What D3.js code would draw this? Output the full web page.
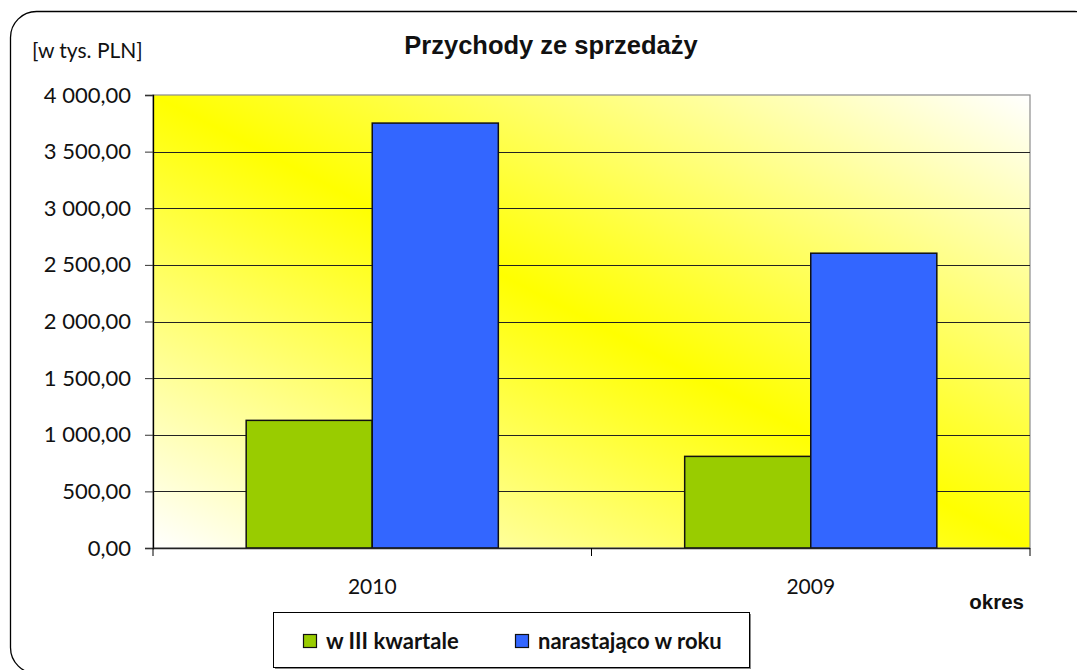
<!DOCTYPE html>
<html>
<head>
<meta charset="utf-8">
<script src="https://cdn.jsdelivr.net/npm/d3@7"></script>
<style>
  body { margin: 0; background: #fff; }
  svg { display: block; }
</style>
</head>
<body>
<svg id="chart" width="1077" height="670"></svg>
<script>
// Przychody ze sprzedaży - bar chart

const categories = ['2010', '2009'];
const seriesNames = ['w III kwartale', 'narastająco w roku'];
const q3Values = [1127, 809];
const ytdValues = [3752, 2603];
const yTicks = [0, 500, 1000, 1500, 2000, 2500, 3000, 3500, 4000];

const colors = ['#99cc00', '#3366ff'];
const bodyFont = 'Lato, "Open Sans", sans-serif';
const boldFont = '"Liberation Sans", Arial, sans-serif';

const svg = d3.select('#chart');
const plot = { left: 153, top: 95, right: 1030, bottom: 548 };

// number format like "4 000,00"
const plFormat = d3.formatLocale({
  decimal: ',', thousands: '\u00a0', grouping: [3], currency: ['', ' zł']
}).format(',.2f');

const defs = svg.append('defs');
const grad = defs.append('linearGradient')
  .attr('id', 'bg')
  .attr('x1', 0).attr('y1', 1)
  .attr('x2', 1).attr('y2', 0);
grad.append('stop').attr('offset', '0%').attr('stop-color', '#ffffff');
grad.append('stop').attr('offset', '50%').attr('stop-color', '#ffff00');
grad.append('stop').attr('offset', '100%').attr('stop-color', '#ffffff');

// outer frame
svg.append('rect')
  .attr('x', 10.5).attr('y', 11.5)
  .attr('width', 1090).attr('height', 662)
  .attr('rx', 26).attr('ry', 26)
  .attr('fill', '#fff')
  .attr('stroke', '#000')
  .attr('stroke-width', 1.3);

const x0 = d3.scaleBand()
  .domain(categories)
  .range([plot.left, plot.right])
  .paddingInner(0.425)
  .paddingOuter(0.2125);

const x1 = d3.scaleBand()
  .domain(seriesNames)
  .range([0, x0.bandwidth()]);

const y = d3.scaleLinear()
  .domain([0, 4000])
  .range([plot.bottom, plot.top]);

// plot background
svg.append('rect')
  .attr('x', plot.left).attr('y', plot.top)
  .attr('width', plot.right - plot.left)
  .attr('height', plot.bottom - plot.top)
  .attr('fill', 'url(#bg)')
  .attr('stroke', '#8c8c8c')
  .attr('stroke-width', 1.2);

// gridlines
svg.append('g')
  .selectAll('line')
  .data(yTicks.slice(1, -1))
  .join('line')
  .attr('x1', plot.left).attr('x2', plot.right)
  .attr('y1', d => Math.round(y(d)) + 0.5)
  .attr('y2', d => Math.round(y(d)) + 0.5)
  .attr('stroke', '#222')
  .attr('stroke-width', 1);

// bars
const rows = categories.map((c, i) => ({ cat: c, vals: [q3Values[i], ytdValues[i]] }));

const groups = svg.append('g')
  .selectAll('g')
  .data(rows)
  .join('g')
  .attr('transform', d => `translate(${x0(d.cat)},0)`);

groups.selectAll('rect')
  .data(d => d.vals.map((v, i) => ({ name: seriesNames[i], v: v, i: i })))
  .join('rect')
  .attr('x', d => x1(d.name))
  .attr('y', d => y(d.v))
  .attr('width', x1.bandwidth())
  .attr('height', d => y(0) - y(d.v))
  .attr('fill', d => colors[d.i])
  .attr('stroke', '#111')
  .attr('stroke-width', 1.5);

// y axis
const yAxis = d3.axisLeft(y)
  .tickValues(yTicks)
  .tickSize(8)
  .tickPadding(14)
  .tickFormat(plFormat);

const gy = svg.append('g')
  .attr('transform', `translate(${plot.left},0)`)
  .call(yAxis);
gy.select('.domain').attr('stroke', '#000').attr('stroke-width', 1.3);
gy.selectAll('.tick line').attr('stroke', '#333');
gy.selectAll('text')
  .attr('font-family', bodyFont)
  .attr('font-size', 22)
  .attr('fill', '#111');

// x axis line with ticks at band edges
const gx = svg.append('g');
gx.append('line')
  .attr('x1', plot.left).attr('x2', plot.right)
  .attr('y1', plot.bottom + 0.5).attr('y2', plot.bottom + 0.5)
  .attr('stroke', '#222').attr('stroke-width', 1.3);
const edges = [plot.left, (plot.left + plot.right) / 2, plot.right];
gx.selectAll('.edge')
  .data(edges)
  .join('line')
  .attr('class', 'edge')
  .attr('x1', d => d).attr('x2', d => d)
  .attr('y1', plot.bottom).attr('y2', plot.bottom + 8)
  .attr('stroke', '#000');
gx.selectAll('text')
  .data(categories)
  .join('text')
  .attr('x', d => x0(d) + x0.bandwidth() / 2)
  .attr('y', 594)
  .attr('text-anchor', 'middle')
  .attr('font-family', bodyFont)
  .attr('font-size', 21)
  .attr('fill', '#111')
  .text(d => d);

// titles
svg.append('text')
  .attr('x', 551).attr('y', 54)
  .attr('text-anchor', 'middle')
  .attr('font-family', boldFont)
  .attr('font-weight', 'bold')
  .attr('font-size', 25.5)
  .attr('fill', '#111')
  .text('Przychody ze sprzedaży');

svg.append('text')
  .attr('x', 32).attr('y', 58)
  .attr('font-family', bodyFont)
  .attr('font-size', 21)
  .attr('fill', '#111')
  .text('[w tys. PLN]');

svg.append('text')
  .attr('x', 1024).attr('y', 609)
  .attr('text-anchor', 'end')
  .attr('font-family', boldFont)
  .attr('font-weight', 'bold')
  .attr('font-size', 20.5)
  .attr('fill', '#111')
  .text('okres');

// legend
const legend = svg.append('g').attr('transform', 'translate(273,612)');
legend.append('rect')
  .attr('x', 2).attr('y', 2)
  .attr('width', 476).attr('height', 55)
  .attr('fill', '#888');
legend.append('rect')
  .attr('x', 0.5).attr('y', 0.5)
  .attr('width', 476).attr('height', 55)
  .attr('fill', '#fff')
  .attr('stroke', '#000');

const legendX = [30, 242];
const items = legend.selectAll('.item')
  .data(seriesNames)
  .join('g')
  .attr('class', 'item')
  .attr('transform', (d, i) => `translate(${legendX[i]},0)`);
items.append('rect')
  .attr('x', 0.5).attr('y', 22.5)
  .attr('width', 13).attr('height', 13)
  .attr('fill', (d, i) => colors[i])
  .attr('stroke', '#111')
  .attr('stroke-width', 1.2);
items.append('text')
  .attr('x', 23).attr('y', 37)
  .attr('font-family', bodyFont)
  .attr('font-weight', 'bold')
  .attr('font-size', 22)
  .attr('fill', '#111')
  .text(d => d);
</script>
</body>
</html>
